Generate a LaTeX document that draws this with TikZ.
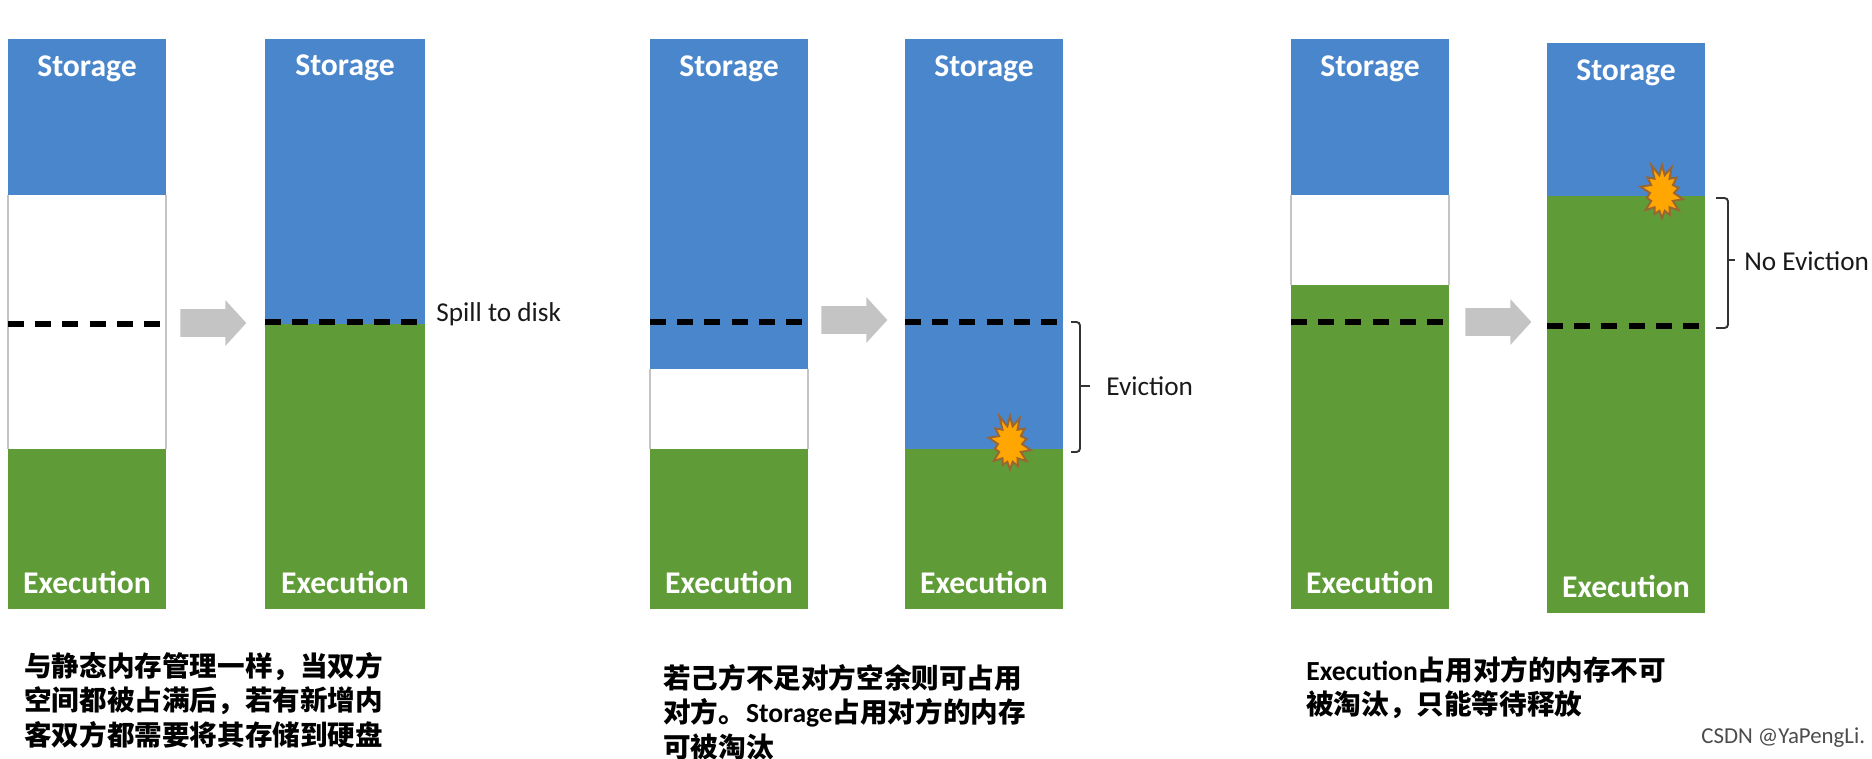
\documentclass[tikz,border=0pt]{standalone}
\usepackage{fontspec}
\usepackage{xcolor}
\usepackage{tikz}
\usetikzlibrary{positioning}
\usetikzlibrary{shapes.arrows,shapes.symbols}
\setmainfont{Carlito}
\newfontfamily\cjk{Noto Sans CJK SC}
\definecolor{myblue}{HTML}{4A86CC}
\definecolor{mygreen}{HTML}{5F9C38}
\definecolor{mygrey}{HTML}{C4C4C4}
\newcommand{\lat}[1]{{\rmfamily #1}}
\tikzset{
  block/.style={minimum width=3.16cm, inner sep=0pt, outer sep=0pt, anchor=north west},
  storage/.style={block, fill=myblue},
  free/.style={block, fill=white},
  execution/.style={block, fill=mygreen},
  side/.style={draw=mygrey, line width=0.9pt},
  barlabel/.style={text=white, font=\bfseries\fontsize{18}{20}\selectfont},
  limit/.style={line width=3pt, dash pattern=on 9pt off 6.5pt},
  move/.style={single arrow, fill=mygrey, minimum height=1.32cm, single arrow head extend=0.18cm, single arrow tip angle=95, single arrow head indent=0cm, inner xsep=0pt, inner ysep=0.27cm, outer sep=0pt},
  burst/.style={starburst, starburst points=14, starburst point height=0.26cm, random starburst=11, fill=orange!70!yellow, draw=brown!80!black, line width=1.1pt, minimum width=1cm, minimum height=1.25cm, inner sep=0pt},
  bracket/.style={draw=black!80, line width=1.1pt, rounded corners=2pt},
  note/.style={font=\fontsize{15.5}{18}\selectfont, text=black!90},
  caption/.style={anchor=north west, align=left, inner sep=0pt, font=\cjk\bfseries\fontsize{15.7}{19.6}\selectfont}
}
\begin{document}
\begin{tikzpicture}[x=0.02cm, y=-0.02cm]
      \useasboundingbox (0,0) rectangle (1872,758);
      % first pair
      \node(s1) [storage, minimum height=3.12cm] at (8,39) {};
      \node(f1) [free, minimum height=5.08cm, below=0pt of s1.south west, anchor=north west] {};
      \node(e1) [execution, minimum height=3.2cm, below=0pt of f1.south west, anchor=north west] {};
      \node(s2) [storage, minimum width=3.2cm, minimum height=5.7cm] at (265,39) {};
      \node(e2) [execution, minimum width=3.2cm, minimum height=5.7cm, below=0pt of s2.south west, anchor=north west] {};
      % second pair
      \node(s3) [storage, minimum height=6.6cm] at (650,39) {};
      \node(f3) [free, minimum height=1.6cm, below=0pt of s3.south west, anchor=north west] {};
      \node(e3) [execution, minimum height=3.2cm, below=0pt of f3.south west, anchor=north west] {};
      \node(s4) [storage, minimum height=8.2cm] at (905,39) {};
      \node(e4) [execution, minimum height=3.2cm, below=0pt of s4.south west, anchor=north west] {};
      % third pair
      \node(s5) [storage, minimum height=3.12cm] at (1291,39) {};
      \node(f5) [free, minimum height=1.8cm, below=0pt of s5.south west, anchor=north west] {};
      \node(e5) [execution, minimum height=6.48cm, below=0pt of f5.south west, anchor=north west] {};
      \node(s6) [storage, minimum height=3.06cm] at (1547,43) {};
      \node(e6) [execution, minimum height=8.34cm, below=0pt of s6.south west, anchor=north west] {};

      \draw[side] (f1.north west) -- (f1.south west);
      \draw[side] (f1.north east) -- (f1.south east);
      \draw[side] (f3.north west) -- (f3.south west);
      \draw[side] (f3.north east) -- (f3.south east);
      \draw[side] (f5.north west) -- (f5.south west);
      \draw[side] (f5.north east) -- (f5.south east);

      \node(ls1) [barlabel, below=0.22cm of s1.north] {Storage};
      \node(ls2) [barlabel, below=0.2cm of s2.north] {Storage};
      \node(ls3) [barlabel, below=0.22cm of s3.north] {Storage};
      \node(ls4) [barlabel, below=0.22cm of s4.north] {Storage};
      \node(ls5) [barlabel, below=0.22cm of s5.north] {Storage};
      \node(ls6) [barlabel, below=0.22cm of s6.north] {Storage};
      \node(le1) [barlabel, above=0.18cm of e1.south] {Execution};
      \node(le2) [barlabel, above=0.18cm of e2.south] {Execution};
      \node(le3) [barlabel, above=0.18cm of e3.south] {Execution};
      \node(le4) [barlabel, above=0.18cm of e4.south] {Execution};
      \node(le5) [barlabel, above=0.18cm of e5.south] {Execution};
      \node(le6) [barlabel, above=0.18cm of e6.south] {Execution};

      \coordinate (d1a) at (8,324);
      \coordinate (d1b) at (165,324);
      \coordinate (d2a) at (265,322);
      \coordinate (d2b) at (425,322);
      \coordinate (d3a) at (650,322);
      \coordinate (d3b) at (807,322);
      \coordinate (d4a) at (905,322);
      \coordinate (d4b) at (1063,322);
      \coordinate (d5a) at (1291,322);
      \coordinate (d5b) at (1449,322);
      \coordinate (d6a) at (1547,326);
      \coordinate (d6b) at (1705,326);
      \draw[limit] (d1a) -- (d1b);
      \draw[limit] (d2a) -- (d2b);
      \draw[limit] (d3a) -- (d3b);
      \draw[limit] (d4a) -- (d4b);
      \draw[limit] (d5a) -- (d5b);
      \draw[limit] (d6a) -- (d6b);

      \node(m1) [move] at (207,323) {};
      \node(m2) [move] at (848,320) {};
      \node(m3) [move] at (1492,322) {};

      \node(b1) [burst] at (1010,444) {};
      \node(b2) [burst] at (1662,193) {};

      \node(spill) [note, anchor=west, inner sep=0pt] at (436,314) {Spill to disk};
      \node(evict) [note, anchor=west, inner sep=0pt] at (1106,386) {Eviction};
      \node(noevict) [note, anchor=west, inner sep=0pt] at (1744,261) {No Eviction};

      \coordinate (k1a) at (1071,322);
      \coordinate (k1b) at (1080,452);
      \coordinate (k1c) at (1071,452);
      \coordinate (k1d) at (1080,386);
      \coordinate (k1e) at (1090,386);
      \coordinate (k2a) at (1716,198);
      \coordinate (k2b) at (1728,328);
      \coordinate (k2c) at (1716,328);
      \coordinate (k2d) at (1728,260);
      \coordinate (k2e) at (1735,260);
      \draw[bracket] (k1a) -| (k1b) -- (k1c);
      \draw[bracket] (k1d) -- (k1e);
      \draw[bracket] (k2a) -| (k2b) -- (k2c);
      \draw[bracket] (k2d) -- (k2e);

      \node(c1) [caption] at (24,652) {与静态内存管理一样，当双方\\空间都被占满后，若有新增内\\客双方都需要将其存储到硬盘};
      \node(c2) [caption] at (663,664) {若己方不足对方空余则可占用\\对方。\lat{Storage}占用对方的内存\\可被淘汰};
      \node(c3) [caption] at (1306,656) {\lat{Execution}占用对方的内存不可\\被淘汰，只能等待释放};

      \node(mark) [anchor=west, inner sep=0pt, text=black!70, font=\fontsize{13}{15}\selectfont] at (1701,738) {CSDN @YaPengLi.};
    \end{tikzpicture}
\end{document}
